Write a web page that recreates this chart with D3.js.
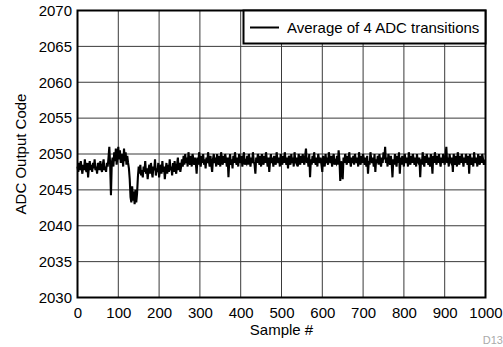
<!DOCTYPE html>
<html><head><meta charset="utf-8">
<script src="https://cdn.jsdelivr.net/npm/d3@7"></script>
<style>body{margin:0;background:#fff}svg{display:block}text{font-family:"Liberation Sans",Arial,sans-serif}</style>
</head><body><svg id="c" width="503" height="347"></svg>
<script>
const sampleStep = 2;
const xTicks = [0,100,200,300,400,500,600,700,800,900,1000];
const yTicks = [2030,2035,2040,2045,2050,2055,2060,2065,2070];
const seriesName = "Average of 4 ADC transitions";
const adcCode = [
2048.25,2047.5,2048.75,2047.75,2049,2048,2047.25,2048.5,2047.75,2049.25,
2048,2047.5,2048.75,2046.75,2048.25,2049,2047.75,2048.5,2047.5,2048.75,
2048,2049.25,2047.75,2048.25,2047.25,2048.75,2048.5,2047.75,2049,2048,
2047.5,2048.5,2049.25,2047.75,2048.25,2047.5,2048.75,2048.25,
2049.5,2051,2048.5,2044.25,2048.75,2049.5,2048.25,2050.25,2049,2050.75,
2048.5,2049.75,2051,2049.25,2050.5,2048.75,2050,2049.5,2048.25,2050.75,
2049,2050.25,2048.5,2049.75,2048.75,
2048,2046.5,2044,2043.25,2045.5,2043.5,2044.75,2043,2045,2043.25,2044.5,2046.75,2048.25,
2047.25,2048.5,2047,2047.75,2046.75,2048.25,2047.5,2049,2047.25,2048,
2046.5,2047.75,2048.5,2047.25,2048.75,2047.5,2046.75,2048.25,2047.75,2049.25,
2047,2048,2047.5,2048.75,2046.75,2047.75,2048.5,2047.25,2049,2047.5,
2048.25,2046.5,2047.75,2048.75,2047.25,2048.5,2047.5,2049.25,2047.75,2048.25,
2047,2048.75,2047.5,2049,2048,2047.25,2048.5,2049.5,2047.75,2048.75,
2047.5,2048.25,
2049.25,2048.25,2049.75,2048.5,2050,2048.75,2049.5,2048.25,2050.25,2049,
2048.5,2049.75,2048.25,2050,2049.25,2048.5,2049.5,2048.75,2047.25,2049.5,
2048.5,2050.25,2049,2048.25,2049.75,2048.75,2050,2048.5,2049.25,2048,
2049.5,2048.75,2050.25,2049,2048.25,2049.75,2048.5,2047.5,2049.25,2050,
2048.75,2049.5,2048.25,2050,2049,2048.5,2049.75,2048.25,2050.25,2049.25,
2048.5,2049.75,2048.75,2050,2049.25,2048.25,2049.5,2046.75,2049,2050,
2048.5,2049.25,2048,2049.75,2048.75,2050.25,2049,2048.5,2049.5,2048.25,
2050,2049.25,2048.75,2049.75,2048.25,2049.5,2050.25,2048.5,2049,2048.75,
2049.75,2048.5,2050,2049.25,2048.25,2049.5,2048.75,2050.25,2049,2048.5,
2047.25,2049.5,2048.75,2050,2049.25,2048.5,2049.75,2048.25,2050,2049,
2048.5,2049.75,2048.75,2050.25,2049.25,2048.25,2049.5,2047.5,2049,2050,
2048.75,2049.5,2048.25,2049.75,2049,2048.5,2050.25,2049.25,2048.75,2049.5,
2048.25,2050,2049,2048.5,2049.75,2048.75,2050.25,2049.25,2048.5,2049.5,
2048,2049.75,2049.25,2048.5,2050,2048.75,2049.5,2048.25,2050.25,2049,
2048.75,2049.5,2048.25,2050,2049.25,2048.5,2049.75,2048.75,2050,2049,
2048.5,2049.75,2050.75,2048.75,2049.5,2048.25,2050,2046.75,2049.25,2048.5,
2049.75,2048.75,2050.25,2049,2048.5,2049.5,2048.25,2050,2049.25,2048.75,
2049.5,2048.5,2047.5,2049.75,2049,2048.25,2050,2048.75,2049.5,2048.5,
2050.25,2049.25,2048.75,2049.75,2048.25,2049.5,2050,2048.5,2049,2048.75,
2049.75,2048.5,2050.5,2049.25,2046.25,2049,2048.5,2046.5,2049.5,2048.75,
2050,2049.25,2048.5,2049.75,2048.75,2050.25,2049,2048.25,2049.5,2048.75,
2049.75,2048.5,2050,2049.25,2048.75,2049.5,2048.25,2050.25,2049,2048.5,
2049.75,2048.75,2050,2049.25,2048.5,2049.5,2048.25,2049.75,2047.25,2049,
2048.5,2050.25,2049.25,2048.75,2049.5,2048.25,2050,2047.5,2049.25,2048.75,
2049.75,2048.5,2050,2049,2048.25,2049.5,2048.75,2050.25,2049.25,2051,
2048.75,2049.5,2048.25,2050,2049.25,2048.5,2049.75,2048.75,2046.75,2049.25,
2048.5,2050,2049,2048.25,2049.75,2048.75,2050.25,2047.25,2049.5,2048.5,
2049.75,2049,2048.25,2050,2049.25,2048.75,2049.5,2048.25,2050.25,2049,
2048.5,2049.75,2048.75,2050,2049.25,2048.5,2049.5,2048.25,2050,2049,
2048.75,2049.5,2046.75,2049.25,2048.5,2050.25,2049,2048.25,2049.75,2048.75,
2050,2049.25,2048.5,2049.5,2048.25,2050,2049,2047.25,2049.75,2048.75,
2050.25,2049.25,2048.5,2049.75,2048.75,2050,2049,2048.25,2049.5,2048.75,
2050,2049.25,2048.5,2049.75,2051,2048.75,2049.5,2048.25,2050,2049,
2048.75,2049.5,2047.5,2050,2049.25,2048.5,2049.75,2048.25,2050.25,2049,
2048.5,2049.75,2048.75,2050,2049.25,2048.25,2049.5,2048.75,2050,2049.25,
2048.5,2049.75,2047.25,2050,2049,2048.5,2049.5,2048.25,2050.25,2049.25,
2048.75,2049.5,2048.25,2050,2049,2048.5,2049.75,2048.75,2050,2049.25,
2048.5,2049.25
];

const svg = d3.select("#c");
const FS = 15;
const L = 77.5, R = 485.5, T = 10.5, B = 297.5;
const x = d3.scaleLinear().domain([0,1000]).range([L,R]);
const y = d3.scaleLinear().domain([2030,2070]).range([B,T]);

// grid
const g = svg.append("g");
g.selectAll("line.v").data(xTicks.slice(1,-1)).join("line")
  .attr("x1",d=>x(d)).attr("x2",d=>x(d)).attr("y1",T).attr("y2",B)
  .attr("stroke","#3a3a3a").attr("stroke-width",1);
g.selectAll("line.h").data(yTicks.slice(1,-1)).join("line")
  .attr("y1",d=>y(d)).attr("y2",d=>y(d)).attr("x1",L).attr("x2",R)
  .attr("stroke","#3a3a3a").attr("stroke-width",1);

// data line
const line = d3.line().x((d,i)=>x(i*sampleStep)).y(d=>y(d));
svg.append("path").datum(adcCode).attr("d",line)
  .attr("fill","none").attr("stroke","#000").attr("stroke-width",2.1).attr("stroke-linejoin","miter");

// frame
svg.append("rect").attr("x",L).attr("y",T).attr("width",R-L).attr("height",B-T)
  .attr("fill","none").attr("stroke","#000").attr("stroke-width",2);

// axes labels
const xa = svg.append("g").attr("transform",`translate(0,${B})`)
  .call(d3.axisBottom(x).tickValues(xTicks).tickSize(0).tickPadding(10).tickFormat(d3.format("d")));
xa.select(".domain").remove();
xa.selectAll("text").attr("font-size",FS).attr("fill","#000").attr("font-family","Liberation Sans, Arial, sans-serif");
const ya = svg.append("g").attr("transform",`translate(${L},0)`)
  .call(d3.axisLeft(y).tickValues(yTicks).tickSize(0).tickPadding(5.5).tickFormat(d3.format("d")));
ya.select(".domain").remove();
ya.selectAll("text").attr("font-size",FS).attr("fill","#000").attr("font-family","Liberation Sans, Arial, sans-serif");

svg.append("text").attr("x",(L+R)/2).attr("y",335).attr("text-anchor","middle")
  .attr("font-size",FS).text("Sample #");
svg.append("text").attr("transform",`translate(26,${(T+B)/2}) rotate(-90)`).attr("text-anchor","middle")
  .attr("font-size",FS).text("ADC Output Code");
svg.append("text").attr("x",503).attr("y",344).attr("text-anchor","end")
  .attr("font-size",11).attr("fill","#aaa").text("D13");

// legend
const lg = svg.append("g");
lg.append("rect").attr("x",243.5).attr("y",T).attr("width",R-243.5).attr("height",33)
  .attr("fill","#fff").attr("stroke","#000").attr("stroke-width",2);
lg.append("line").attr("x1",250).attr("x2",279).attr("y1",27.5).attr("y2",27.5)
  .attr("stroke","#000").attr("stroke-width",2);
lg.append("text").attr("x",287).attr("y",33).attr("font-size",FS).text(seriesName);
</script></body></html>
